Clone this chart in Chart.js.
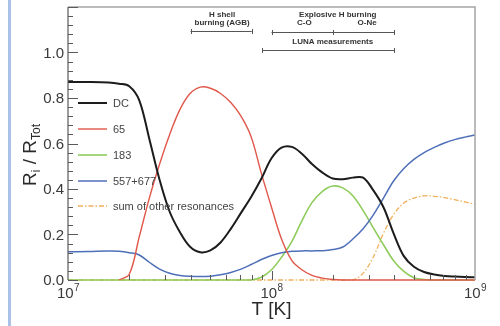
<!DOCTYPE html>
<html>
<head>
<meta charset="utf-8">
<script src="https://cdn.jsdelivr.net/npm/chart.js@4/dist/chart.umd.min.js"></script>
<style>
  html, body { margin: 0; padding: 0; background: #fff; }
  #wrap { position: relative; width: 500px; height: 326px; overflow: hidden; }
  #wrap canvas { position: absolute; left: 0; top: 0; }
  #edge { position: absolute; left: 8px; top: 0; width: 3px; height: 326px; background: #a9c1e6; }
</style>
</head>
<body>
<div id="wrap">
  <canvas id="chart" width="500" height="326"></canvas>
  <div id="edge"></div>
</div>
<script>
// Temperature grid (K), log-spaced from 1e7 to 1e9
const temperatures = [1.0e7, 1.26e7, 1.58e7, 1.78e7, 2.0e7, 2.24e7, 2.51e7, 2.82e7, 3.16e7, 3.55e7,
  3.98e7, 4.47e7, 5.01e7, 5.62e7, 6.31e7, 7.08e7, 7.94e7, 8.91e7, 1.0e8, 1.12e8,
  1.26e8, 1.41e8, 1.58e8, 1.78e8, 2.0e8, 2.24e8, 2.51e8, 2.82e8, 3.16e8, 3.55e8,
  3.98e8, 4.47e8, 5.01e8, 5.62e8, 6.31e8, 7.08e8, 7.94e8, 8.91e8, 1.0e9];

// Fractional contribution R_i / R_Tot of each component
const dcValues = [0.870, 0.870, 0.868, 0.863, 0.852, 0.790, 0.620, 0.440, 0.300, 0.210,
  0.146, 0.122, 0.130, 0.165, 0.225, 0.295, 0.365, 0.445, 0.535, 0.582,
  0.585, 0.555, 0.510, 0.472, 0.446, 0.443, 0.450, 0.450, 0.395, 0.320,
  0.205, 0.105, 0.058, 0.035, 0.024, 0.018, 0.015, 0.013, 0.012];
const res65Values = [null, null, null, 0, 0.025, 0.190, 0.360, 0.510, 0.640, 0.750,
  0.820, 0.848, 0.843, 0.820, 0.780, 0.720, 0.630, 0.470, 0.320, 0.180,
  0.085, 0.045, 0.020, 0.008, 0.002, 0, 0, 0, 0, 0,
  0, 0, 0, 0, 0, 0, 0, 0, 0];
const res183Values = [0, 0, 0, 0, 0, 0, 0, 0, 0, 0,
  0, 0, 0, 0, 0, 0, 0, 0.012, 0.045, 0.100,
  0.170, 0.260, 0.340, 0.390, 0.413, 0.405, 0.370, 0.305, 0.230, 0.155,
  0.085, 0.038, 0.010, 0.002, 0, 0, 0, 0, 0];
const res557Values = [0.124, 0.125, 0.127, 0.126, 0.120, 0.110, 0.078, 0.048, 0.030, 0.020,
  0.016, 0.015, 0.017, 0.023, 0.033, 0.048, 0.068, 0.090, 0.108, 0.120,
  0.126, 0.128, 0.128, 0.129, 0.134, 0.145, 0.180, 0.225, 0.285, 0.360,
  0.435, 0.490, 0.530, 0.560, 0.583, 0.602, 0.617, 0.628, 0.637];
const otherValues = [0, 0, 0, 0, 0, 0, 0, 0, 0, 0,
  0, 0, 0, 0, 0, 0, 0, 0, 0, 0,
  0, 0, 0, 0, 0, 0, 0, 0.030, 0.100, 0.205,
  0.288, 0.338, 0.360, 0.370, 0.368, 0.362, 0.353, 0.343, 0.333];

const seriesNames = ['DC', '65', '183', '557+677', 'sum of other resonances'];

// Axis ticks
const yTickValues = [0.0, 0.2, 0.4, 0.6, 0.8, 1.0];
const yTickLabels = ['0.0', '0.2', '0.4', '0.6', '0.8', '1.0'];
const xDecades = [1e7, 1e8, 1e9];
const xDecadeExponents = ['7', '8', '9'];

// Temperature ranges of the astrophysical sites (K)
const agbRange = [4.0e7, 8.0e7];
const explosiveRange = [1.0e8, 2.0e8, 4.0e8];
const lunaRange = [9.0e7, 4.0e8];

const toPoints = vals => temperatures.map((t, i) => ({ x: t, y: vals[i] }));

const styles = [
  { color: '#1c1c1c', width: 2.0, dash: [] },
  { color: '#e0574a', width: 1.4, dash: [] },
  { color: '#8fcc5c', width: 1.6, dash: [] },
  { color: '#4f6fb9', width: 1.5, dash: [] },
  { color: '#f2b05e', width: 1.3, dash: [5, 2, 1.5, 2] }
];
const valueSets = [dcValues, res65Values, res183Values, res557Values, otherValues];
const drawOrder = [1, 2, 4, 3, 5];

const datasets = valueSets.map((vals, i) => ({
  label: seriesNames[i],
  data: toPoints(vals),
  borderColor: styles[i].color,
  borderWidth: styles[i].width,
  borderDash: styles[i].dash,
  pointRadius: 0,
  fill: false,
  tension: 0.35,
  spanGaps: false,
  clip: false,
  order: drawOrder[i]
}));

const FONT = '"Liberation Sans", Arial, Helvetica, sans-serif';

const decorations = {
  id: 'decorations',
  afterDatasetsDraw(chart) {
    const { ctx, chartArea: a, scales: { x, y } } = chart;
    ctx.save();

    // frame
    ctx.lineWidth = 1.5;
    ctx.strokeStyle = '#a5a5a5';
    ctx.beginPath();
    ctx.moveTo(a.left, a.top); ctx.lineTo(a.right, a.top); ctx.lineTo(a.right, a.bottom);
    ctx.stroke();
    ctx.strokeStyle = '#5a5a5a';
    ctx.lineWidth = 1.2;
    ctx.beginPath();
    ctx.moveTo(a.left, a.top); ctx.lineTo(a.left, a.bottom);
    ctx.stroke();

    // y ticks: major every 0.2, minor every 0.04
    ctx.strokeStyle = '#5a5a5a';
    ctx.lineWidth = 1;
    for (let k = 0; k <= 30; k++) {
      const v = k * 0.04;
      const py = Math.round(y.getPixelForValue(v)) + 0.5;
      const len = (k % 5 === 0) ? 10 : 5;
      ctx.beginPath();
      ctx.moveTo(a.left, py); ctx.lineTo(a.left + len, py);
      ctx.stroke();
    }
    // x ticks: decades and 2..9 sub-decades
    for (let d = 0; d < xDecades.length - 1; d++) {
      for (let m = 1; m <= 9; m++) {
        const t = xDecades[d] * m;
        if (m === 1 && d === 0) continue;
        const px = Math.round(x.getPixelForValue(t)) + 0.5;
        const len = m === 1 ? 9 : 5;
        ctx.beginPath();
        ctx.moveTo(px, a.bottom); ctx.lineTo(px, a.bottom - len);
        ctx.stroke();
      }
    }

    // y tick labels
    ctx.fillStyle = '#3a3a3a';
    ctx.font = '15px ' + FONT;
    ctx.textAlign = 'right';
    ctx.textBaseline = 'middle';
    yTickValues.forEach((v, i) => {
      ctx.fillText(yTickLabels[i], a.left - 4, y.getPixelForValue(v) + 1);
    });

    // x tick labels: 10^n
    ctx.textBaseline = 'alphabetic';
    ctx.textAlign = 'left';
    xDecades.forEach((t, i) => {
      const px = x.getPixelForValue(t);
      ctx.font = '15px ' + FONT;
      const w1 = ctx.measureText('10').width;
      ctx.font = '10px ' + FONT;
      const w2 = ctx.measureText(xDecadeExponents[i]).width;
      const x0 = px - (w1 + w2) / 2;
      ctx.font = '15px ' + FONT;
      ctx.fillText('10', x0, 298);
      ctx.font = '10px ' + FONT;
      ctx.fillText(xDecadeExponents[i], x0 + w1 + 0.5, 291);
    });

    // x axis title
    ctx.font = '19px ' + FONT;
    ctx.textAlign = 'center';
    ctx.fillStyle = '#2a2a2a';
    ctx.fillText('T [K]', x.getPixelForValue(1e8), 315);

    // y axis title: R_i / R_Tot
    ctx.save();
    ctx.translate(36, 155);
    ctx.rotate(-Math.PI / 2);
    const parts = [['R', 19, 0], ['i', 12, 4], [' / R', 19, 0], ['Tot', 12, 4]];
    let total = 0;
    parts.forEach(p => { ctx.font = p[1] + 'px ' + FONT; total += ctx.measureText(p[0]).width; });
    let cx = -total / 2;
    ctx.textAlign = 'left';
    parts.forEach(p => {
      ctx.font = p[1] + 'px ' + FONT;
      ctx.fillText(p[0], cx, p[2]);
      cx += ctx.measureText(p[0]).width;
    });
    ctx.restore();

    // legend
    ctx.font = '11px ' + FONT;
    ctx.textAlign = 'left';
    ctx.textBaseline = 'middle';
    const legendY = [103, 129, 155, 181, 206];
    datasets.forEach((ds, i) => {
      ctx.strokeStyle = ds.borderColor;
      ctx.lineWidth = ds.borderWidth;
      ctx.setLineDash(ds.borderDash);
      ctx.beginPath();
      ctx.moveTo(78, legendY[i]); ctx.lineTo(107, legendY[i]);
      ctx.stroke();
      ctx.setLineDash([]);
      ctx.fillStyle = '#444';
      ctx.fillText(ds.label, 113, legendY[i] + 0.5);
    });

    // temperature-range annotations
    const bar = (t0, t1, py, mids) => {
      const x0 = x.getPixelForValue(t0), x1 = x.getPixelForValue(t1);
      ctx.strokeStyle = '#555';
      ctx.lineWidth = 1;
      ctx.beginPath();
      ctx.moveTo(x0, py + 0.5); ctx.lineTo(x1, py + 0.5);
      [x0, x1].concat(mids.map(m => x.getPixelForValue(m))).forEach(px => {
        ctx.moveTo(Math.round(px) + 0.5, py - 2); ctx.lineTo(Math.round(px) + 0.5, py + 3);
      });
      ctx.stroke();
    };
    ctx.fillStyle = '#333';
    ctx.textAlign = 'center';
    ctx.textBaseline = 'alphabetic';
    ctx.font = 'bold 8px ' + FONT;
    const agbMid = Math.sqrt(agbRange[0] * agbRange[1]);
    ctx.fillText('H shell', x.getPixelForValue(agbMid) + 1, 17);
    ctx.fillText('burning (AGB)', x.getPixelForValue(agbMid) + 1, 25);
    bar(agbRange[0], agbRange[1], 31, []);

    ctx.fillText('Explosive H burning', x.getPixelForValue(explosiveRange[1]) + 5, 17);
    ctx.fillText('C-O', x.getPixelForValue(1.45e8), 25);
    ctx.fillText('O-Ne', x.getPixelForValue(2.95e8), 25);
    bar(explosiveRange[0], explosiveRange[2], 32, [explosiveRange[1]]);

    ctx.fillText('LUNA measurements', x.getPixelForValue(explosiveRange[1]), 44);
    bar(lunaRange[0], lunaRange[1], 50, []);

    ctx.restore();
  }
};

new Chart(document.getElementById('chart'), {
  type: 'line',
  data: { datasets },
  options: {
    responsive: false,
    animation: false,
    devicePixelRatio: 1,
    layout: { padding: { left: 68, right: 25, top: 7, bottom: 46 } },
    plugins: { legend: { display: false }, tooltip: { enabled: false } },
    scales: {
      x: { type: 'logarithmic', min: 1e7, max: 1e9, display: false },
      y: { type: 'linear', min: 0, max: 1.2, display: false }
    }
  },
  plugins: [decorations]
});
</script>
</body>
</html>
